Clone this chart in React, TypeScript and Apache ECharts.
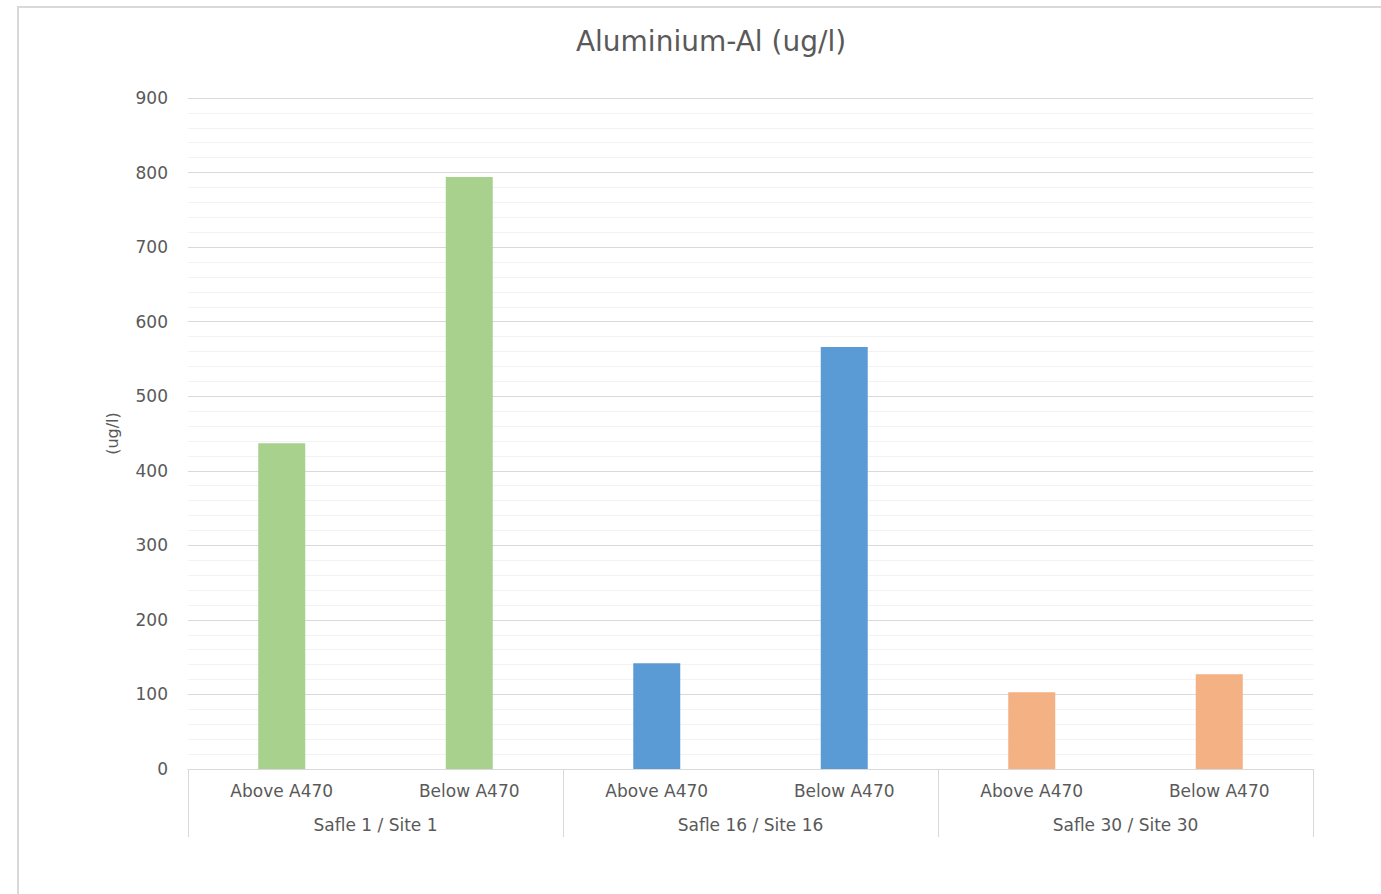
import React, { useEffect, useRef } from "react";
import * as echarts from "echarts";

const categories = ["Above A470", "Below A470", "Above A470", "Below A470", "Above A470", "Below A470"];
const groups = ["Safle 1 / Site 1", "Safle 16 / Site 16", "Safle 30 / Site 30"];
const values = [437, 794, 142, 566, 103, 127];
const barColors = ["#A9D18E", "#A9D18E", "#5B9BD5", "#5B9BD5", "#F4B183", "#F4B183"];
const FONT = "'DejaVu Sans', 'Open Sans', sans-serif";

export default function App() {
  const ref = useRef<HTMLDivElement>(null);
  useEffect(() => {
    const chart = echarts.init(ref.current!, null, { renderer: "svg" });
    chart.setOption({
      animation: false,
      backgroundColor: "#ffffff",
      title: {
        text: "Aluminium-Al (ug/l)",
        left: 706,
        top: 22,
        textAlign: "center",
        textStyle: { fontFamily: FONT, fontSize: 28, fontWeight: "normal", color: "#595959" },
      },
      graphic: [
        {
          type: "rect",
          shape: { x: 18, y: 7, width: 1400, height: 900 },
          style: { fill: "none", stroke: "#d9d9d9", lineWidth: 2 },
          silent: true,
        },
      ],
      grid: { left: 188, right: 68, top: 98, bottom: 125, containLabel: false },
      xAxis: [
        {
          type: "category",
          data: categories,
          position: "bottom",
          axisLine: { show: true, lineStyle: { color: "#d9d9d9", width: 1 } },
          axisTick: { show: false },
          axisLabel: { color: "#595959", fontFamily: FONT, fontSize: 17, margin: 13 },
        },
        {
          type: "category",
          data: groups,
          position: "bottom",
          axisLine: { show: false },
          axisTick: { show: true, length: 68, lineStyle: { color: "#d9d9d9", width: 1 } },
          axisLabel: { color: "#595959", fontFamily: FONT, fontSize: 17, margin: 47 },
        },
      ],
      yAxis: {
        type: "value",
        min: 0,
        max: 900,
        interval: 100,
        name: "(ug/l)",
        nameLocation: "middle",
        nameGap: 68,
        nameRotate: 90,
        nameTextStyle: { color: "#595959", fontFamily: FONT, fontSize: 16 },
        axisLine: { show: false },
        axisTick: { show: false },
        axisLabel: { color: "#595959", fontFamily: FONT, fontSize: 17, margin: 20 },
        splitLine: { show: true, lineStyle: { color: "#d9d9d9", width: 1 } },
        minorTick: { show: false, splitNumber: 5 },
        minorSplitLine: { show: true, lineStyle: { color: "#f2f2f2", width: 1 } },
      },
      series: [
        {
          type: "bar",
          xAxisIndex: 0,
          barWidth: 47,
          data: values.map((v, i) => ({ value: v, itemStyle: { color: barColors[i] } })),
        },
      ],
    });
    return () => chart.dispose();
  }, []);
  return (
    <div
      ref={ref}
      style={{ position: "absolute", left: 0, top: 0, width: 1381, height: 894 }}
    />
  );
}
